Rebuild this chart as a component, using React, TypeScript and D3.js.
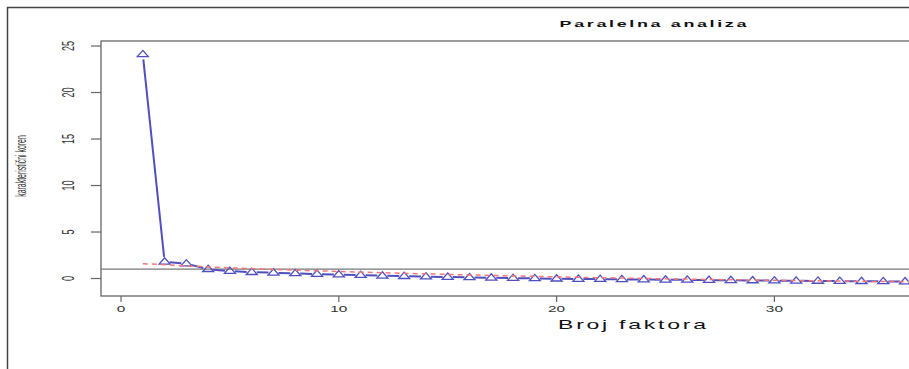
import React from 'react';
import * as d3 from 'd3';

// eigenvalues of the factors (blue triangles), factor 1..37
const eigenValues = [
  24.1, 1.8, 1.6, 1.0, 0.8, 0.68, 0.62, 0.55, 0.48, 0.42,
  0.36, 0.3, 0.25, 0.2, 0.16, 0.12, 0.08, 0.04, 0.01, -0.02,
  -0.05, -0.07, -0.09, -0.11, -0.13, -0.15, -0.17, -0.19, -0.21, -0.23,
  -0.25, -0.26, -0.28, -0.29, -0.31, -0.32, -0.34,
];
// simulated data (red dashed)
const simulatedValues = [
  1.6, 1.48, 1.36, 1.25, 1.15, 1.06, 0.98, 0.9, 0.83, 0.76,
  0.69, 0.62, 0.56, 0.5, 0.44, 0.38, 0.33, 0.28, 0.23, 0.18,
  0.13, 0.09, 0.05, 0.01, -0.03, -0.06, -0.1, -0.13, -0.16, -0.19,
  -0.22, -0.25, -0.27, -0.3, -0.32, -0.34, -0.36,
];
const yTicks = [0, 5, 10, 15, 20, 25];
const xTicks = [0, 10, 20, 30];
const nVariables = 49;
const yRange = [-1.88, 25.54];

const title = 'Paralelna analiza';
const xLabel = 'Broj faktora';
const yLabel = 'karakteristični koren';

// the picture is stretched wide and squashed in height
const SX = 1.28, SY = 0.7;
const FONT = '"Liberation Sans", Arial, sans-serif';
const BLUE = '#4f4fbf';
const RED = '#f27878';

const App = () => {
  const box = { left: 101, right: 1230, top: 41, bottom: 296 };
  const pad = 0.04 * (nVariables - 1);
  const x = d3.scaleLinear().domain([1 - pad, nVariables + pad]).range([box.left, box.right]);
  const y = d3.scaleLinear().domain(yRange).range([box.bottom, box.top]);

  const pts = eigenValues.map((v, i) => [x(i + 1), y(v)]);
  const sim = d3.line<number>().x((d, i) => x(i + 1)).y(d => y(d));

  // type "b": segments with a gap around each point
  const gap = 10.5;
  const segs = [];
  for (let i = 0; i < pts.length - 1; i++) {
    const [x1, y1] = pts[i], [x2, y2] = pts[i + 1];
    const L = Math.hypot(x2 - x1, y2 - y1);
    if (L <= 2 * gap) continue;
    const ux = (x2 - x1) / L, uy = (y2 - y1) / L;
    segs.push([x1 + ux * 5, y1 + uy * 5, x2 - ux * 5, y2 - uy * 5]);
  }

  const tri = 'M0,-4L5.5,2.3L-5.5,2.3Z';
  const sc = (tx, ty) => `translate(${tx},${ty}) scale(${SX},${SY})`;

  return (
    <svg width={909} height={369}
      style={{ position: 'absolute', left: 0, top: 0, background: '#fff' }}
      fontFamily={FONT}>
      <rect x={0} y={0} width={909} height={369} fill="#fff" />
      {/* outer frame */}
      <line x1={7} x2={909} y1={7.5} y2={7.5} stroke="#444" strokeWidth={1.5} />
      <line x1={7.5} x2={7.5} y1={7} y2={369} stroke="#444" strokeWidth={1.5} />

      <text transform={sc(653, 27)} textAnchor="middle" fontSize={14} fontWeight="bold"
        fill="#111" textLength={146} lengthAdjust="spacing">{title}</text>

      {/* plot box */}
      <rect x={box.left} y={box.top} width={box.right - box.left} height={box.bottom - box.top}
        fill="none" stroke="#666" strokeWidth={1.3} />

      {/* y axis */}
      {yTicks.map(t => (
        <g key={'y' + t}>
          <line x1={box.left - 10} x2={box.left} y1={y(t)} y2={y(t)} stroke="#666" strokeWidth={1.2} />
          <text transform={`${sc(74, y(t))} rotate(-90)`} textAnchor="middle" fontSize={13} fill="#333">{t}</text>
        </g>
      ))}
      <text transform={`${sc(26, 166)} rotate(-90)`} textAnchor="middle" fontSize={11}
        fill="#333" textLength={88} lengthAdjust="spacingAndGlyphs">{yLabel}</text>

      {/* x axis */}
      {xTicks.map(t => (
        <g key={'x' + t}>
          <line x1={x(t)} x2={x(t)} y1={box.bottom} y2={box.bottom + 6} stroke="#666" strokeWidth={1.2} />
          <text transform={sc(x(t), 311.5)} textAnchor="middle" fontSize={12} fill="#333">{t}</text>
        </g>
      ))}
      <text transform={sc(632, 329)} textAnchor="middle" fontSize={18} fill="#111"
        textLength={115.6} lengthAdjust="spacing">{xLabel}</text>

      {/* reference line at 1 */}
      <line x1={box.left} x2={box.right} y1={y(1)} y2={y(1)} stroke="#777" strokeWidth={1.2} />

      {/* eigenvalues */}
      {segs.map((s, i) => (
        <line key={'s' + i} x1={s[0]} y1={s[1]} x2={s[2]} y2={s[3]} stroke={BLUE} strokeWidth={2} />
      ))}
      {pts.map((p, i) => (
        <path key={'p' + i} d={tri} transform={`translate(${p[0]},${p[1]})`}
          fill="none" stroke={BLUE} strokeWidth={1.3} />
      ))}

      {/* simulated */}
      <path d={sim(simulatedValues) || ''} fill="none" stroke={RED} strokeWidth={1.5} strokeDasharray="5,4" />
    </svg>
  );
};

export default App;
